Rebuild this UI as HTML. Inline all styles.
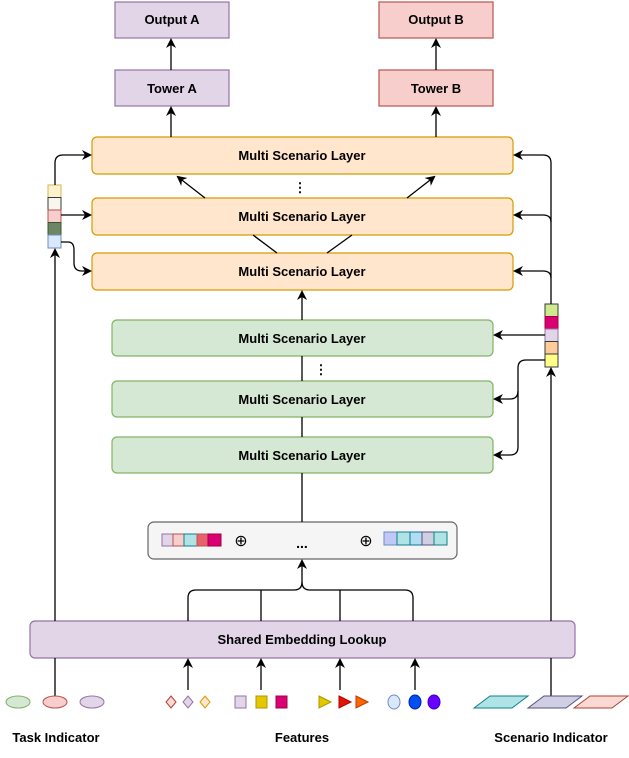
<!DOCTYPE html>
<html><head><style>body{margin:0;background:#fff}svg{display:block}text{font-family:"Liberation Sans",sans-serif;font-weight:bold;font-size:13px;fill:#000}</style></head>
<body>
<svg width="629" height="758" viewBox="0 0 629 758" xmlns="http://www.w3.org/2000/svg">
<defs><marker id="a" markerWidth="10" markerHeight="10" refX="8" refY="5" orient="auto" markerUnits="userSpaceOnUse"><path d="M0,0 L10,5 L0,10 L3,5 Z" fill="#000"/></marker></defs>
<g stroke-width="1.2">
<rect x="115" y="2" width="114" height="36" fill="#e1d5e7" stroke="#9673a6"/>
<rect x="115" y="70" width="114" height="36" fill="#e1d5e7" stroke="#9673a6"/>
<rect x="379" y="2" width="114" height="36" fill="#f8cecc" stroke="#b85450"/>
<rect x="379" y="70" width="114" height="36" fill="#f8cecc" stroke="#b85450"/>
<rect x="92" y="137" width="421" height="37" rx="5" fill="#ffe6cc" stroke="#d79b00"/>
<rect x="92" y="198" width="421" height="37" rx="5" fill="#ffe6cc" stroke="#d79b00"/>
<rect x="92" y="253" width="421" height="37" rx="5" fill="#ffe6cc" stroke="#d79b00"/>
<rect x="112" y="320" width="381" height="36" rx="5" fill="#d5e8d4" stroke="#82b366"/>
<rect x="112" y="381" width="381" height="36" rx="5" fill="#d5e8d4" stroke="#82b366"/>
<rect x="112" y="437" width="381" height="36" rx="5" fill="#d5e8d4" stroke="#82b366"/>
<rect x="148" y="522" width="309" height="37" rx="6" fill="#f5f5f5" stroke="#666"/>
<rect x="30" y="621" width="545" height="37" rx="5" fill="#e1d5e7" stroke="#9673a6"/>
</g>
<g text-anchor="middle">
<text x="172" y="24">Output A</text><text x="172" y="93">Tower A</text>
<text x="436" y="24">Output B</text><text x="436" y="93">Tower B</text>
<text x="302" y="160">Multi Scenario Layer</text>
<text x="302" y="221">Multi Scenario Layer</text>
<text x="302" y="276">Multi Scenario Layer</text>
<text x="302" y="343">Multi Scenario Layer</text>
<text x="302" y="404">Multi Scenario Layer</text>
<text x="302" y="460">Multi Scenario Layer</text>
<text x="302" y="644">Shared Embedding Lookup</text>
<text x="56" y="742">Task Indicator</text>
<text x="302" y="742">Features</text>
<text x="551" y="742">Scenario Indicator</text>
<text x="300" y="192">⋮</text><text x="321" y="374">⋮</text>
<text x="302" y="548" style="font-size:14px">...</text>
<text x="241" y="546" style="font-weight:normal;font-size:16px">⊕</text>
<text x="366" y="546" style="font-weight:normal;font-size:16px">⊕</text>
</g>
<g stroke-width="1">
<rect x="162" y="534" width="11" height="12" fill="#e1d5e7" stroke="#9673a6"/>
<rect x="173" y="534" width="11" height="12" fill="#f8cecc" stroke="#b85450"/>
<rect x="184" y="534" width="13" height="12" fill="#b0e3e6" stroke="#0e8088"/>
<rect x="197" y="534" width="11" height="12" fill="#e7626e" stroke="#b85450"/>
<rect x="208" y="534" width="13" height="12" fill="#d80073" stroke="#a50040"/>
<rect x="384" y="532" width="13" height="13" fill="#c0c8f8" stroke="#6c8ebf"/>
<rect x="397" y="532" width="13" height="13" fill="#b0e3e6" stroke="#0e8088"/>
<rect x="410" y="532" width="12" height="13" fill="#b1ddf0" stroke="#10739e"/>
<rect x="422" y="532" width="12" height="13" fill="#d0cee2" stroke="#56517e"/>
<rect x="434" y="532" width="13" height="13" fill="#b0e3e6" stroke="#0e8088"/>
<rect x="48" y="185" width="13" height="12.5" fill="#fff2cc" stroke="#d6b656"/>
<rect x="48" y="197.5" width="13" height="12.5" fill="#f9f7ed" stroke="#36393d"/>
<rect x="48" y="210" width="13" height="12.5" fill="#f8cecc" stroke="#b85450"/>
<rect x="48" y="222.5" width="13" height="12.5" fill="#6d8764" stroke="#3a5431"/>
<rect x="48" y="235" width="13" height="13" fill="#dae8fc" stroke="#6c8ebf"/>
<rect x="545" y="304" width="13" height="12.5" fill="#cdeb8b" stroke="#36393d"/>
<rect x="545" y="316.5" width="13" height="12.5" fill="#d80073" stroke="#a50040"/>
<rect x="545" y="329" width="13" height="12.5" fill="#e1d5e7" stroke="#9673a6"/>
<rect x="545" y="341.5" width="13" height="12.5" fill="#ffcc99" stroke="#36393d"/>
<rect x="545" y="354" width="13" height="13" fill="#ffff88" stroke="#36393d"/>
</g>
<g fill="none" stroke="#000" stroke-width="1.3">
<path d="M171 70V40" marker-end="url(#a)"/>
<path d="M171 137V108" marker-end="url(#a)"/>
<path d="M436 70V40" marker-end="url(#a)"/>
<path d="M436 137V108" marker-end="url(#a)"/>
<path d="M302 320V292" marker-end="url(#a)"/>
<path d="M302 522V473M302 417V437M302 356V381"/>
<path d="M205 198L178 177" marker-end="url(#a)"/>
<path d="M407 198L434 177" marker-end="url(#a)"/>
<path d="M277 253L253 235M327 253L352 235"/>
<path d="M55 621V250" marker-end="url(#a)"/>
<path d="M55 185V163Q55 155 63 155H90" marker-end="url(#a)"/>
<path d="M61 215H90" marker-end="url(#a)"/>
<path d="M61 242H68Q74 242 74 250V263Q74 271 82 271H90" marker-end="url(#a)"/>
<path d="M551 621V369" marker-end="url(#a)"/>
<path d="M551 304V163Q551 155 543 155H515" marker-end="url(#a)"/>
<path d="M551 222Q551 215 543 215H515" marker-end="url(#a)"/>
<path d="M551 278Q551 271 543 271H515" marker-end="url(#a)"/>
<path d="M545 335H495" marker-end="url(#a)"/>
<path d="M545 360H526Q518 360 518 368V391Q518 399 510 399H495" marker-end="url(#a)"/>
<path d="M518 391V447Q518 455 510 455H495" marker-end="url(#a)"/>
<path d="M188 621V598Q188 590 196 590H294Q302 590 302 582V561" marker-end="url(#a)"/>
<path d="M413 621V598Q413 590 405 590H310Q302 590 302 582M261 621V590M340 621V590"/>
<path d="M188 690V660" marker-end="url(#a)"/>
<path d="M261 690V660" marker-end="url(#a)"/>
<path d="M340 690V660" marker-end="url(#a)"/>
<path d="M415 690V660" marker-end="url(#a)"/>
<path d="M55 658V697M551 658V696"/>
</g>
<g stroke-width="1">
<ellipse cx="18" cy="702" rx="12" ry="6" fill="#d5e8d4" stroke="#82b366"/>
<ellipse cx="55" cy="702" rx="12" ry="6" fill="#f8cecc" stroke="#b85450"/>
<ellipse cx="92" cy="702" rx="12" ry="6" fill="#e1d5e7" stroke="#9673a6"/>
<path d="M171 696l5 6-5 6-5-6z" fill="#fad9d5" stroke="#ae4132"/>
<path d="M188 696l5 6-5 6-5-6z" fill="#e1d5e7" stroke="#9673a6"/>
<path d="M205 696l5 6-5 6-5-6z" fill="#ffe6cc" stroke="#d79b00"/>
<rect x="235" y="696" width="11" height="12" fill="#e1d5e7" stroke="#9673a6"/>
<rect x="256" y="696" width="11" height="12" fill="#e3c800" stroke="#b09500"/>
<rect x="276" y="696" width="11" height="12" fill="#d80073" stroke="#a50040"/>
<path d="M319 696l12 6-12 6z" fill="#e3c800" stroke="#b09500"/>
<path d="M339 696l12 6-12 6z" fill="#e51400" stroke="#b20000"/>
<path d="M356 696l12 6-12 6z" fill="#fa6800" stroke="#c73500"/>
<ellipse cx="394" cy="702" rx="6" ry="7" fill="#dae8fc" stroke="#6c8ebf"/>
<ellipse cx="415" cy="702" rx="6" ry="7" fill="#0050ef" stroke="#001dbc"/>
<ellipse cx="434" cy="702" rx="6" ry="7" fill="#6a00ff" stroke="#3700cc"/>
<path d="M474 708L490 696H528L512 708z" fill="#b0e3e6" stroke="#0e8088"/>
<path d="M528 708L544 696H582L566 708z" fill="#d0cee2" stroke="#56517e"/>
<path d="M574 708L590 696H628L612 708z" fill="#fad9d5" stroke="#ae4132"/>
</g>
</svg>
</body></html>
